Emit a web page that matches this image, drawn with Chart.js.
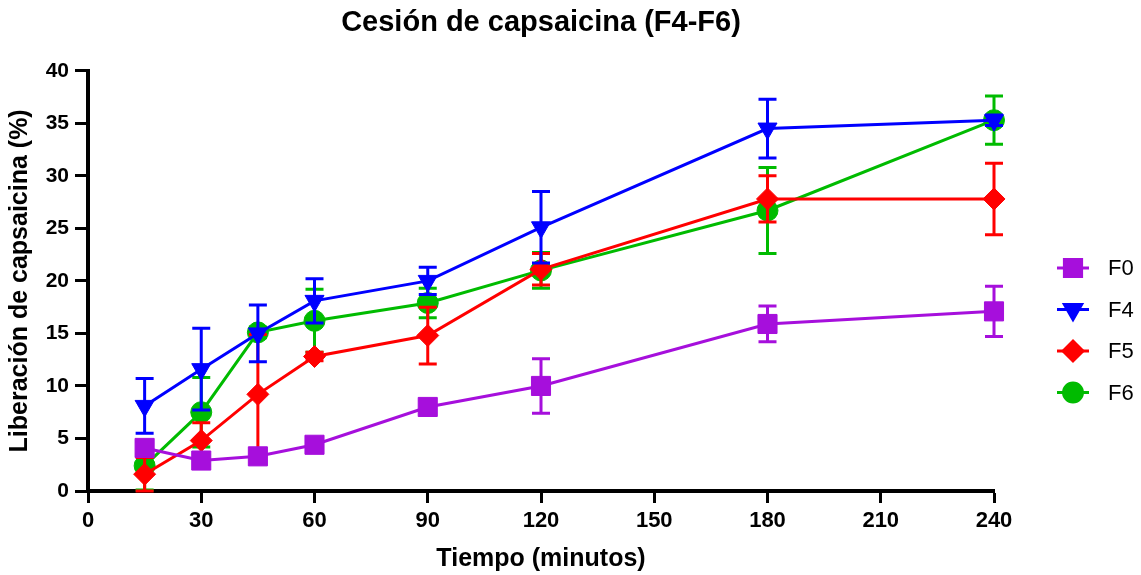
<!DOCTYPE html>
<html lang="es">
<head>
<meta charset="utf-8">
<title>Cesión de capsaicina (F4-F6)</title>
<script src="https://cdn.jsdelivr.net/npm/chart.js@4/dist/chart.umd.min.js"></script>
<style>
  html, body { margin: 0; padding: 0; background: #fff; }
  #wrap { width: 1141px; height: 575px; }
</style>
</head>
<body>
<div id="wrap"><canvas id="releaseChart" width="1141" height="575"></canvas></div>
<script>
// Sampling times (minutes)
const times = [15, 30, 45, 60, 90, 120, 180, 240];

// Mean capsaicin release (%) per formulation
const f0Values = [4.1, 2.9, 3.3, 4.4, 8.0, 10.0, 15.9, 17.1];
const f4Values = [8.1, 11.6, 15.0, 18.1, 20.0, 25.1, 34.5, 35.3];
const f5Values = [1.6, 4.8, 9.2, 12.8, 14.8, 21.1, 27.8, 27.8];
const f6Values = [2.4, 7.5, 15.1, 16.2, 17.9, 21.0, 26.7, 35.3];

// Standard deviations
const f0Errors = [0.6, 0.5, 0.5, 0.6, 0.6, 2.6, 1.7, 2.4];
const f4Errors = [2.6, 3.9, 2.7, 2.1, 1.3, 3.4, 2.8, 0.5];
const f5Errors = [1.6, 1.7, 5.7, 0.4, 2.7, 1.5, 2.2, 3.4];
const f6Errors = [2.3, 3.3, 0.5, 3.0, 1.4, 1.7, 4.1, 2.3];

// Axis ticks
const xTicks = [0, 30, 60, 90, 120, 150, 180, 210, 240];
const yTicks = [0, 5, 10, 15, 20, 25, 30, 35, 40];

Chart.defaults.color = '#000';
Chart.defaults.font.family = "'Liberation Sans', Arial, sans-serif";

function series(label, values, errors, color, style, radius, rotation) {
    return {
        label: label,
        data: times.map((t, i) => ({ x: t, y: values[i] })),
        errors: errors,
        borderColor: color,
        backgroundColor: color,
        borderWidth: 3,
        tension: 0,
        clip: false,
        pointStyle: style,
        pointRadius: radius,
        pointHoverRadius: radius,
        pointRotation: rotation || 0,
        pointBackgroundColor: color,
        pointBorderColor: color,
        pointBorderWidth: 1
    };
}

// Vertical error bars with caps, drawn just under each series
const errorBars = {
    id: 'errorBars',
    beforeDatasetDraw(chart, args) {
        const ds = chart.data.datasets[args.index];
        if (!ds.errors) return;
        const y = chart.scales.y;
        const ctx = chart.ctx;
        ctx.save();
        ctx.strokeStyle = ds.borderColor;
        ctx.lineWidth = 3;
        args.meta.data.forEach((pt, i) => {
            const v = ds.data[i].y;
            const e = ds.errors[i];
            const top = y.getPixelForValue(v + e);
            const bot = y.getPixelForValue(Math.max(0, v - e));
            ctx.beginPath();
            ctx.moveTo(pt.x, top);
            ctx.lineTo(pt.x, bot);
            ctx.moveTo(pt.x - 9, top);
            ctx.lineTo(pt.x + 9, top);
            ctx.moveTo(pt.x - 9, bot);
            ctx.lineTo(pt.x + 9, bot);
            ctx.stroke();
        });
        ctx.restore();
    }
};

// Legend on the right: short line with the series marker
const sideLegend = {
    id: 'sideLegend',
    afterDraw(chart) {
        const ctx = chart.ctx;
        const x0 = chart.chartArea.right + 63;
        const yStart = 268;
        const gap = 41.5;
        ctx.save();
        chart.data.datasets.forEach((ds, i) => {
            const cy = yStart + i * gap;
            ctx.strokeStyle = ds.borderColor;
            ctx.fillStyle = ds.backgroundColor;
            ctx.lineWidth = 3;
            ctx.beginPath();
            ctx.moveTo(x0, cy);
            ctx.lineTo(x0 + 32, cy);
            ctx.stroke();
            Chart.helpers.drawPoint(ctx, {
                pointStyle: ds.pointStyle,
                rotation: ds.pointRotation,
                radius: ds.pointRadius * 0.9,
                borderWidth: 1
            }, x0 + 16, cy);
            ctx.fillStyle = '#000';
            ctx.font = "22px 'Liberation Sans', Arial, sans-serif";
            ctx.textBaseline = 'middle';
            ctx.textAlign = 'left';
            ctx.fillText(ds.label, x0 + 51, cy + 1);
        });
        ctx.restore();
    }
};

const ctx = document.getElementById('releaseChart');
new Chart(ctx, {
    type: 'line',
    data: {
        datasets: [
            series('F0', f0Values, f0Errors, '#a60fdc', 'rect', 13.5),
            series('F4', f4Values, f4Errors, '#0000ff', 'triangle', 11, 180),
            series('F5', f5Values, f5Errors, '#ff0000', 'rectRot', 11),
            series('F6', f6Values, f6Errors, '#00bb00', 'circle', 10.5)
        ]
    },
    options: {
        responsive: false,
        animation: false,
        layout: { padding: { top: 0, right: 147, bottom: 0, left: 0 } },
        plugins: {
            legend: { display: false },
            tooltip: { enabled: false },
            title: {
                display: true,
                fullSize: false,
                text: 'Cesión de capsaicina (F4-F6)',
                font: { size: 29, weight: 'bold' },
                padding: { top: 6, bottom: 30 }
            }
        },
        scales: {
            x: {
                type: 'linear',
                min: 0,
                max: 240,
                afterBuildTicks: s => { s.ticks = xTicks.map(v => ({ value: v })); },
                afterFit: s => { s.height = 84; },
                ticks: { font: { size: 22, weight: 'bold' }, padding: 5, maxRotation: 0 },
                grid: { drawOnChartArea: false, drawTicks: true, tickLength: 12, tickWidth: 3, tickColor: '#000', color: '#000' },
                border: { display: true, color: '#000', width: 4 },
                title: {
                    display: true,
                    text: 'Tiempo (minutos)',
                    font: { size: 25, weight: 'bold' },
                    padding: { top: 0, bottom: 1 }
                }
            },
            y: {
                min: 0,
                max: 40,
                afterBuildTicks: s => { s.ticks = yTicks.map(v => ({ value: v })); },
                afterFit: s => { s.width = 88; },
                ticks: { font: { size: 21, weight: 'bold' }, padding: 6 },
                grid: { drawOnChartArea: false, drawTicks: true, tickLength: 13, tickWidth: 3, tickColor: '#000', color: '#000' },
                border: { display: true, color: '#000', width: 4 },
                title: {
                    display: true,
                    text: 'Liberación de capsaicina (%)',
                    font: { size: 25, weight: 'bold' },
                    padding: { top: 5, bottom: 0 }
                }
            }
        }
    },
    plugins: [errorBars, sideLegend]
});
</script>
</body>
</html>
